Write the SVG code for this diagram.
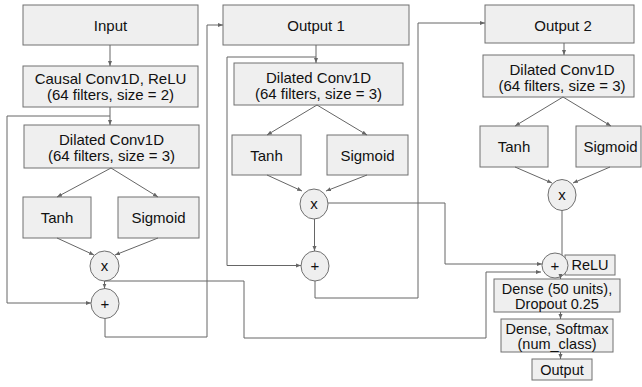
<svg xmlns="http://www.w3.org/2000/svg" width="642" height="387" viewBox="0 0 642 387">
  <defs>
    <marker id="ah" viewBox="0 0 10 10" refX="10" refY="5" markerWidth="5" markerHeight="5" markerUnits="userSpaceOnUse" orient="auto">
      <path d="M0,1 L10,5 L0,9 z" fill="#666"/>
    </marker>
    <style>
      .box { fill: #efefef; stroke: #707070; stroke-width: 1; }
      .lbl { font-family: "Liberation Sans", Arial, sans-serif; font-size: 15px; fill: #111; text-anchor: middle; }
      .sm { font-size: 14.5px; }
      .edge { fill: none; stroke: #666; stroke-width: 1; marker-end: url(#ah); }
      .plain { fill: none; stroke: #666; stroke-width: 1; }
    </style>
  </defs>

  <rect width="642" height="387" fill="#fff"/>

  <!-- first residual block -->
  <g id="input">
    <rect class="box" x="23" y="5" width="175" height="40"/>
    <text class="lbl" x="110.5" y="31">Input</text>
  </g>
  <g id="causal-conv">
    <rect class="box" x="23" y="66" width="175" height="41"/>
    <text class="lbl" x="110.5" y="83.5">Causal Conv1D, ReLU</text>
    <text class="lbl" x="110.5" y="100">(64 filters, size = 2)</text>
  </g>
  <g id="dilated-1">
    <rect class="box" x="24" y="125" width="175" height="43"/>
    <text class="lbl" x="111.5" y="145">Dilated Conv1D</text>
    <text class="lbl" x="111.5" y="161">(64 filters, size = 3)</text>
  </g>
  <g id="tanh-1">
    <rect class="box" x="23" y="197" width="68" height="41"/>
    <text class="lbl" x="57" y="223">Tanh</text>
  </g>
  <g id="sigmoid-1">
    <rect class="box" x="118" y="197" width="81" height="41"/>
    <text class="lbl" x="158.5" y="223">Sigmoid</text>
  </g>
  <g id="mul-1">
    <ellipse class="box" cx="104.5" cy="266" rx="14.5" ry="15"/>
    <text class="lbl" x="104.5" y="270.5">x</text>
  </g>
  <g id="add-1">
    <ellipse class="box" cx="105" cy="303.5" rx="14" ry="15"/>
    <text class="lbl" x="105" y="308.5">+</text>
  </g>

  <!-- second residual block -->
  <g id="output-1">
    <rect class="box" x="223" y="5" width="186" height="40"/>
    <text class="lbl" x="316" y="31">Output 1</text>
  </g>
  <g id="dilated-2">
    <rect class="box" x="234" y="63" width="169" height="42"/>
    <text class="lbl" x="318.5" y="83">Dilated Conv1D</text>
    <text class="lbl" x="318.5" y="99">(64 filters, size = 3)</text>
  </g>
  <g id="tanh-2">
    <rect class="box" x="232" y="135" width="69" height="40"/>
    <text class="lbl" x="266.5" y="160.5">Tanh</text>
  </g>
  <g id="sigmoid-2">
    <rect class="box" x="327" y="135" width="81" height="40"/>
    <text class="lbl" x="367.5" y="160.5">Sigmoid</text>
  </g>
  <g id="mul-2">
    <ellipse class="box" cx="314" cy="204" rx="14" ry="15"/>
    <text class="lbl" x="314" y="208.5">x</text>
  </g>
  <g id="add-2">
    <ellipse class="box" cx="315" cy="266" rx="14" ry="15"/>
    <text class="lbl" x="315" y="271">+</text>
  </g>

  <!-- third residual block and classifier head -->
  <g id="output-2">
    <rect class="box" x="485" y="5" width="149" height="38"/>
    <text class="lbl" x="563" y="30.5">Output 2</text>
  </g>
  <g id="dilated-3">
    <rect class="box" x="483" y="55" width="151" height="42"/>
    <text class="lbl" x="562" y="75">Dilated Conv1D</text>
    <text class="lbl" x="562" y="91">(64 filters, size = 3)</text>
  </g>
  <g id="tanh-3">
    <rect class="box" x="480" y="126" width="68" height="41"/>
    <text class="lbl" x="514" y="152">Tanh</text>
  </g>
  <g id="sigmoid-3">
    <rect class="box" x="576" y="126" width="65" height="41"/>
    <text class="lbl" x="610.5" y="152">Sigmoid</text>
  </g>
  <g id="mul-3">
    <ellipse class="box" cx="562" cy="195" rx="14" ry="15.5"/>
    <text class="lbl" x="562" y="199.5">x</text>
  </g>
  <g id="relu">
    <rect class="box" x="565" y="255" width="50" height="20"/>
    <text class="lbl sm" x="590" y="270">ReLU</text>
  </g>
  <g id="add-final">
    <ellipse class="box" cx="555" cy="265.5" rx="13" ry="12.5"/>
    <text class="lbl" x="555" y="270.5">+</text>
  </g>
  <g id="dense">
    <rect class="box" x="494" y="279" width="126" height="33"/>
    <text class="lbl sm" x="557" y="294">Dense (50 units),</text>
    <text class="lbl sm" x="557" y="309">Dropout 0.25</text>
  </g>
  <g id="softmax">
    <rect class="box" x="501" y="319" width="112" height="33"/>
    <text class="lbl sm" x="557" y="334">Dense, Softmax</text>
    <text class="lbl sm" x="557" y="349">(num_class)</text>
  </g>
  <g id="output">
    <rect class="box" x="532" y="359" width="60" height="21"/>
    <text class="lbl sm" x="562" y="375">Output</text>
  </g>

  <g id="connectors">
    <!-- block 1 -->
    <path class="edge" d="M110,45 V66"/>
    <path class="edge" d="M110,107 V125"/>
    <path class="edge" d="M110,116 H7 V303 H91"/>
    <path class="edge" d="M111,168 L57,197"/>
    <path class="edge" d="M111,168 L158,197"/>
    <path class="edge" d="M57,238 L94,255"/>
    <path class="edge" d="M158,238 L115,255"/>
    <path class="edge" d="M104.5,281 V288.5"/>
    <path class="edge" d="M104.5,281 H244 V338 H486 V272 H541"/>
    <path class="edge" d="M105,318.5 V337 H207 V25 H223"/>
    <!-- block 2 -->
    <path class="edge" d="M316,45 V63"/>
    <path class="edge" d="M316,57 H227 V265.5 H301"/>
    <path class="edge" d="M317,105 L267,135"/>
    <path class="edge" d="M317,105 L367,135"/>
    <path class="edge" d="M267,175 L302,191"/>
    <path class="edge" d="M367,175 L326,191"/>
    <path class="edge" d="M314.5,219 V251"/>
    <path class="edge" d="M328,203 H445 V264 H542"/>
    <path class="edge" d="M315,281 V298 H418 V23 H485"/>
    <!-- block 3 and head -->
    <path class="edge" d="M564,43 V55"/>
    <path class="edge" d="M563,97 L515,126"/>
    <path class="edge" d="M563,97 L611,126"/>
    <path class="edge" d="M515,167 L552,183"/>
    <path class="edge" d="M610,167 L573,183"/>
    <path class="plain" d="M562,210.5 V255"/>
    <path class="edge" d="M560.5,274 V279"/>
    <path class="edge" d="M560.5,312 V319"/>
    <path class="edge" d="M560.5,352 V359"/>
  </g>
</svg>
